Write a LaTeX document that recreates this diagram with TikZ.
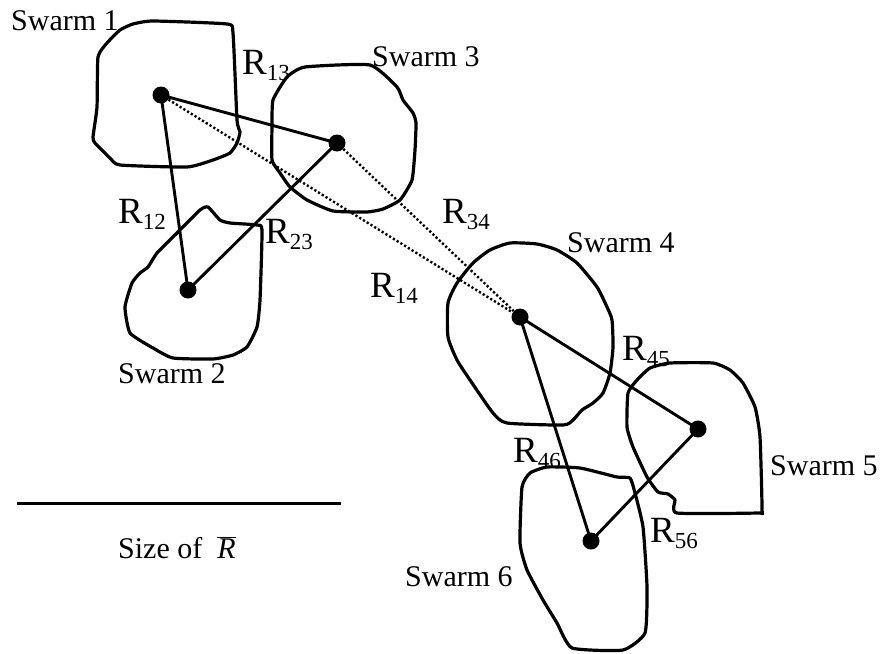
\documentclass[tikz,border=0pt]{standalone}
\usepackage{fontspec}
\setmainfont{Liberation Serif}
\newcommand{\swlab}[1]{{\fontsize{30}{34}\selectfont #1}}
\newcommand{\rlab}[1]{{\fontsize{37}{40}\selectfont R}{\fontsize{23}{26}\selectfont\raisebox{-6pt}{#1}}}
\begin{document}
\begin{tikzpicture}[x=1pt,y=-1pt,
  dot/.style={circle,fill=black,inner sep=0pt,minimum size=17pt},
  edge/.style={line width=2.9pt},
  dotline/.style={line width=2.4pt,dash pattern=on 2.2pt off 2.2pt},
  blob/.style={line width=3.2pt,line join=round},
  lab/.style={inner sep=0pt,anchor=base west}]
\useasboundingbox (0,0) rectangle (885,653);
% swarm outlines
\draw[blob] plot[smooth cycle,tension=0.3] coordinates {(153,21) (227,24) (233,33) (237,120) (240,132) (237,143) (230,153) (213,160) (187,167) (120,165) (110,158) (95,143) (93,137) (97,107) (98,57) (107,43) (120,30) (133,24)};
\draw[blob] plot[smooth cycle,tension=0.3] coordinates {(305,67) (370,65) (397,87) (403,100) (413,113) (416,123) (415,150) (412,180) (400,200) (383,209) (367,212) (333,211) (307,200) (290,187) (280,173) (272,160) (272,127) (273,100) (287,77)};
\draw[blob] plot[smooth cycle,tension=0.3] coordinates {(208,207) (220,220) (230,223) (257,225) (262,230) (260,300) (257,327) (247,347) (233,355) (213,359) (173,358) (153,348) (130,333) (125,307) (132,283) (140,273) (148,267) (157,253) (177,233) (200,210)};
\draw[blob] plot[smooth cycle,tension=0.35] coordinates {(510,243) (537,244) (557,250) (577,263) (597,287) (607,307) (612,320) (613,347) (610,373) (603,393) (593,403) (582,410) (573,420) (563,425) (507,423) (493,413) (470,380) (457,360) (448,337) (448,303) (457,283) (473,263) (490,250)};
\draw[blob] plot[smooth cycle,tension=0.3] coordinates {(670,363) (713,363) (730,370) (743,383) (755,407) (760,437) (762,510) (758,513) (677,513) (675,500) (668,494) (658,492) (647,477) (633,447) (627,427) (628,393) (637,380) (650,368)};
\draw[blob] plot[smooth cycle,tension=0.3] coordinates {(547,467) (580,468) (617,477) (630,478) (635,493) (643,527) (647,587) (645,633) (623,650) (572,648) (557,623) (543,600) (527,570) (520,543) (522,487) (530,473)};
% centres
\node[dot] (s1) at (161,95) {};
\node[dot] (s2) at (188,290) {};
\node[dot] (s3) at (337,143) {};
\node[dot] (s4) at (520,317) {};
\node[dot] (s5) at (698,429) {};
\node[dot] (s6) at (591,541) {};
% connectors
\draw[edge] (s1.center) -- (s3.center);
\draw[edge] (s1.center) -- (s2.center);
\draw[edge] (s2.center) -- (s3.center);
\draw[dotline] (s1) -- (s4);
\draw[dotline] (s3) -- (s4);
\draw[edge] (s4.center) -- (s5.center);
\draw[edge] (s4.center) -- (s6.center);
\draw[edge] (s5.center) -- (s6.center);
% labels
\node[lab] (l1) at (11,30) {\swlab{Swarm 1}};
\node[lab] (l2) at (118,383) {\swlab{Swarm 2}};
\node[lab] (l3) at (372,66) {\swlab{Swarm 3}};
\node[lab] (l4) at (567,252) {\swlab{Swarm 4}};
\node[lab] (l5) at (770,475) {\swlab{Swarm 5}};
\node[lab] (l6) at (405,586) {\swlab{Swarm 6}};
\node[lab] (r13) at (242,74) {\rlab{13}};
\node[lab] (r12) at (118,223) {\rlab{12}};
\node[lab] (r23) at (265,243) {\rlab{23}};
\node[lab] (r14) at (370,297) {\rlab{14}};
\node[lab] (r34) at (442,223) {\rlab{34}};
\node[lab] (r45) at (622,360) {\rlab{45}};
\node[lab] (r46) at (513,462) {\rlab{46}};
\node[lab] (r56) at (650,542) {\rlab{56}};
% scale bar
\coordinate (b1) at (17,503);
\coordinate (b2) at (341,503);
\draw[line width=3pt] (b1) -- (b2);
\node[lab] (size) at (118,558) {\swlab{Size of \ $\overline{\mbox{\itshape R}}$}};
\end{tikzpicture}
\end{document}
